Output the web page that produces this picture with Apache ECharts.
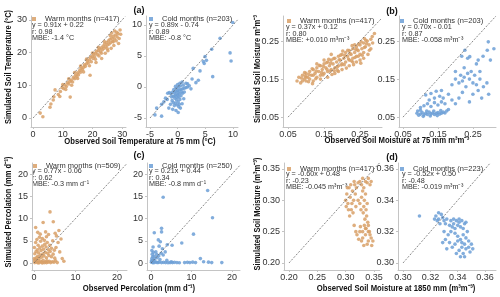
<!DOCTYPE html>
<html><head><meta charset="utf-8">
<script src="https://cdn.jsdelivr.net/npm/echarts@6/dist/echarts.min.js"></script>
<style>html,body{margin:0;padding:0;background:#fff}#c{width:500px;height:297px}</style>
</head><body><div id="c"></div>
<script>
// ---------- data ----------
const warmT = [[2.4,1.5],[3.3,0.4],[5.7,3.3],[6.8,5.5],[7.4,8.6],[8.5,7.2],[9.2,8.1],[9.8,9.3],[10.3,9.0],[10.8,10.1],[11.2,9.6],[11.6,10.8],[12.0,10.4],[12.5,6.4],[12.4,11.2],[12.9,11.6],[13.3,11.0],[13.6,12.4],[14.0,12.0],[14.3,13.1],[14.7,12.6],[15.0,13.8],[15.3,13.2],[15.7,14.5],[16.0,14.0],[16.2,15.2],[16.6,14.8],[17.0,15.5],[17.3,16.3],[17.6,15.8],[18.0,16.6],[18.3,17.4],[18.6,16.9],[19.0,17.8],[19.2,13.1],[19.3,18.6],[19.6,17.2],[19.9,18.9],[20.2,18.2],[20.4,19.6],[20.7,18.8],[21.0,19.8],[21.2,17.0],[21.4,20.4],[21.7,19.4],[22.0,20.6],[22.2,19.0],[22.4,21.1],[22.7,20.2],[23.0,21.5],[23.1,18.2],[23.3,20.8],[23.6,22.0],[23.9,21.3],[24.1,22.6],[24.3,19.8],[24.5,21.8],[24.8,23.1],[25.0,22.3],[25.2,20.6],[25.4,23.6],[25.6,22.6],[25.9,24.1],[26.1,23.0],[26.3,21.3],[26.5,24.4],[26.8,23.5],[27.0,25.0],[27.2,22.2],[27.4,24.2],[27.7,25.4],[28.0,23.6],[28.3,24.8],[28.6,25.8],[29.0,24.3],[29.5,25.6],[28.8,22.8],[26.0,25.2],[24.0,23.4],[22.0,21.6],[20.0,19.9],[18.0,18.0],[16.0,15.9],[14.0,13.9],[12.0,12.0],[10.0,10.2],[11.0,8.7],[13.0,10.0],[15.0,12.1],[17.0,14.1],[19.0,16.0],[21.0,18.0],[23.0,19.8],[25.0,21.2],[27.0,23.3],[9.0,6.6],[7.0,6.5],[6.0,4.3],[26.5,26.0],[27.5,26.6],[29.3,26.9],[28.2,26.2]];
const coldT = [[9.95,10.4],[7.66,7.85],[6.15,6.08],[9.47,5.5],[9.65,4.2],[6.33,1.67],[4.95,4.9],[4.65,4.1],[4.04,2.6],[2.8,3.0],[3.74,1.1],[1.8,0.5],[-3.8,-3.4],[-4.1,-4.5],[-2.9,-4.7],[-2.9,-2.8],[0.1,-4.1],[5.2,4.3],[4.8,3.8],[-1.8,-1.0],[-1.5,-0.9],[-1.2,-1.1],[-0.9,-0.8],[-0.6,-0.9],[-0.3,-0.7],[0.0,-0.6],[0.3,-0.5],[0.6,-0.4],[0.9,-0.3],[1.2,-0.2],[1.5,-0.1],[1.8,0.0],[2.1,0.2],[-0.8,-1.5],[-0.5,-1.8],[-0.2,-2.1],[0.1,-2.4],[0.4,-2.0],[-0.4,-2.6],[-0.1,-2.9],[0.2,-3.2],[-0.6,-3.0],[-1.0,-2.2],[-1.3,-2.8],[-1.6,-3.4],[-0.9,-3.6],[0.5,-3.4],[0.8,-2.7],[0.6,-1.4],[0.3,-1.1],[0.0,-1.3],[-0.3,-1.2],[0.9,-1.0],[1.2,-0.8],[1.0,0.3],[0.5,0.2],[0.2,0.0],[-0.2,-0.2],[0.0,0.4],[0.4,0.6],[0.8,0.8],[-0.4,0.1],[1.5,0.6],[2.4,-0.3],[-2.2,-1.8],[-2.5,-2.4],[-1.9,-2.0],[-0.7,-0.4],[0.7,-0.8],[-0.1,-1.7],[0.2,-1.6],[-0.5,-1.4],[1.1,-1.9],[-1.1,-1.6],[-0.3,-3.8],[0.3,-2.8],[-0.8,-2.5],[0.1,-0.9],[3.3,0.7],[2.6,1.3]];
const warmM = [[0.075,0.145],[0.08,0.155],[0.085,0.14],[0.09,0.16],[0.095,0.15],[0.1,0.165],[0.1,0.145],[0.105,0.155],[0.11,0.17],[0.11,0.15],[0.115,0.16],[0.12,0.145],[0.12,0.175],[0.125,0.165],[0.13,0.155],[0.13,0.18],[0.135,0.17],[0.14,0.16],[0.14,0.185],[0.145,0.175],[0.15,0.165],[0.15,0.19],[0.155,0.18],[0.16,0.17],[0.16,0.195],[0.165,0.185],[0.17,0.175],[0.17,0.2],[0.175,0.19],[0.18,0.18],[0.18,0.205],[0.185,0.195],[0.19,0.185],[0.19,0.21],[0.195,0.2],[0.2,0.19],[0.2,0.215],[0.205,0.205],[0.21,0.195],[0.21,0.22],[0.215,0.21],[0.22,0.2],[0.22,0.225],[0.225,0.215],[0.23,0.205],[0.23,0.23],[0.235,0.22],[0.24,0.21],[0.24,0.235],[0.245,0.225],[0.25,0.215],[0.25,0.24],[0.255,0.23],[0.26,0.22],[0.26,0.245],[0.265,0.235],[0.27,0.25],[0.275,0.24],[0.28,0.255],[0.285,0.245],[0.29,0.27],[0.28,0.23],[0.2,0.175],[0.18,0.165],[0.16,0.155],[0.14,0.15],[0.22,0.185],[0.24,0.195],[0.17,0.215],[0.15,0.2],[0.13,0.19],[0.26,0.205],[0.23,0.195],[0.19,0.17],[0.12,0.16],[0.1,0.155],[0.09,0.145],[0.235,0.24],[0.245,0.21],[0.25,0.2],[0.087,0.153],[0.096,0.167],[0.107,0.143],[0.117,0.177],[0.127,0.151],[0.137,0.186],[0.147,0.161],[0.157,0.193],[0.167,0.171],[0.177,0.204],[0.186,0.181],[0.196,0.213],[0.206,0.188],[0.216,0.226],[0.226,0.198],[0.236,0.207],[0.246,0.242],[0.256,0.213],[0.266,0.252],[0.276,0.226],[0.143,0.167],[0.187,0.173],[0.208,0.212],[0.232,0.188],[0.163,0.202],[0.118,0.138],[0.098,0.158],[0.253,0.248],[0.228,0.238],[0.272,0.215],[0.284,0.262],[0.262,0.257],[0.172,0.162],[0.212,0.179],[0.252,0.192],[0.158,0.176],[0.198,0.187],[0.218,0.203],[0.238,0.228],[0.268,0.243],[0.108,0.162],[0.128,0.171],[0.148,0.183],[0.168,0.192],[0.178,0.172],[0.192,0.201],[0.202,0.224],[0.222,0.217],[0.242,0.227],[0.262,0.233]];
const coldM = [[0.09,0.06],[0.095,0.055],[0.1,0.058],[0.105,0.062],[0.11,0.056],[0.115,0.06],[0.12,0.057],[0.125,0.063],[0.13,0.058],[0.135,0.061],[0.14,0.057],[0.145,0.06],[0.15,0.062],[0.155,0.058],[0.16,0.06],[0.165,0.063],[0.17,0.061],[0.092,0.066],[0.1,0.068],[0.108,0.052],[0.118,0.066],[0.128,0.053],[0.138,0.066],[0.148,0.054],[0.158,0.067],[0.175,0.066],[0.18,0.07],[0.1,0.075],[0.11,0.08],[0.12,0.085],[0.13,0.078],[0.14,0.088],[0.15,0.082],[0.16,0.09],[0.17,0.085],[0.125,0.095],[0.14,0.1],[0.155,0.105],[0.165,0.1],[0.18,0.11],[0.19,0.095],[0.115,0.108],[0.13,0.112],[0.145,0.118],[0.16,0.12],[0.2,0.085],[0.21,0.1],[0.22,0.115],[0.19,0.135],[0.2,0.15],[0.21,0.14],[0.215,0.16],[0.22,0.145],[0.225,0.155],[0.23,0.13],[0.235,0.165],[0.24,0.15],[0.245,0.17],[0.25,0.14],[0.255,0.16],[0.26,0.135],[0.265,0.12],[0.27,0.15],[0.28,0.13],[0.29,0.14],[0.275,0.1],[0.295,0.11],[0.24,0.09],[0.25,0.11],[0.2,0.17],[0.225,0.18],[0.294,0.248],[0.291,0.226],[0.279,0.21],[0.241,0.209],[0.218,0.21],[0.227,0.226],[0.235,0.205],[0.26,0.19],[0.3,0.2],[0.31,0.23],[0.27,0.17],[0.265,0.2]];
const warmP = [[0.2,0.1],[0.5,0.3],[0.8,0.2],[1.0,0.5],[1.3,0.1],[1.6,0.4],[1.9,0.2],[2.2,0.6],[2.5,0.1],[2.8,0.3],[3.1,0.5],[3.4,0.2],[3.7,0.4],[4.0,0.1],[4.4,0.3],[4.8,0.2],[5.2,0.5],[5.6,0.1],[0.3,0.8],[0.6,1.2],[0.9,1.5],[1.2,1.0],[1.5,1.8],[1.8,1.3],[2.1,2.0],[2.4,1.6],[2.7,2.4],[3.0,1.2],[3.3,2.2],[3.6,1.7],[3.9,2.6],[4.2,1.4],[4.6,2.0],[5.0,1.1],[0.2,2.1],[0.5,2.6],[0.8,3.0],[1.1,2.3],[1.4,3.4],[1.7,2.8],[2.0,3.8],[2.3,3.1],[2.6,4.2],[2.9,3.6],[3.2,4.6],[3.5,3.0],[3.8,4.0],[4.2,3.3],[4.5,5.0],[4.9,2.9],[5.3,3.5],[5.8,4.6],[6.2,2.5],[6.5,5.4],[0.1,3.5],[0.4,4.6],[0.7,5.3],[1.0,4.0],[1.3,5.8],[1.6,4.9],[2.0,5.5],[2.5,5.1],[3.0,5.9],[0.4,8.0],[2.2,9.1],[4.65,9.3],[3.86,11.5],[1.5,6.5],[2.8,7.0],[3.5,6.4],[0.9,6.9],[5.4,6.1],[6.0,7.3],[0.1,1.0],[0.15,0.5],[1.0,0.0],[2.0,0.0],[3.0,0.05],[6.8,1.0],[7.2,0.4],[5.1,6.7]];
const coldP = [[14.0,16.3],[3.0,14.8],[15.2,10.2],[10.5,6.5],[0.8,6.8],[2.6,7.8],[2.6,7.0],[1.8,5.2],[2.3,4.8],[4.0,4.1],[5.2,4.0],[7.6,4.5],[12.2,1.0],[13.0,0.3],[2.0,3.8],[0.5,3.6],[1.2,2.5],[0.3,2.0],[0.8,1.5],[1.5,1.2],[2.2,0.8],[3.0,1.8],[3.5,2.5],[2.5,2.2],[0.2,1.0],[0.5,0.6],[1.0,0.3],[0.1,0.2],[0.4,0.1],[0.7,0.05],[1.3,0.15],[1.7,0.1],[2.0,0.2],[2.6,0.1],[3.1,0.15],[3.6,0.1],[4.2,0.05],[4.7,0.1],[5.3,0.1],[5.8,0.15],[6.4,0.1],[7.0,0.05],[8.3,0.1],[9.0,0.15],[9.6,0.1],[10.3,0.2],[11.0,0.1],[14.2,0.2],[15.0,0.1],[17.5,0.1],[0.2,2.8],[0.6,2.4],[1.4,1.9],[0.9,0.9],[1.9,1.6],[0.4,1.4],[3.9,0.6],[0.1,0.5],[2.8,3.2],[5.0,0.3]];
const warmD = [[0.300,0.300],[0.302,0.31],[0.304,0.295],[0.306,0.32],[0.308,0.305],[0.31,0.285],[0.312,0.315],[0.314,0.3],[0.316,0.325],[0.318,0.29],[0.305,0.285],[0.309,0.325],[0.313,0.28],[0.317,0.31],[0.303,0.32],[0.311,0.295],[0.319,0.32],[0.315,0.33],[0.307,0.275],[0.301,0.29],[0.325,0.33],[0.33,0.335],[0.335,0.33],[0.34,0.335],[0.345,0.33],[0.328,0.325],[0.338,0.328],[0.343,0.325],[0.322,0.328],[0.332,0.32],[0.33,0.315],[0.335,0.31],[0.333,0.3],[0.338,0.295],[0.332,0.29],[0.336,0.285],[0.331,0.28],[0.337,0.275],[0.334,0.27],[0.339,0.265],[0.333,0.26],[0.336,0.255],[0.34,0.25],[0.328,0.305],[0.325,0.295],[0.327,0.285],[0.322,0.3],[0.32,0.245],[0.325,0.25],[0.33,0.24],[0.335,0.245],[0.34,0.235],[0.345,0.24],[0.342,0.25],[0.338,0.23],[0.332,0.228],[0.328,0.235],[0.323,0.238],[0.318,0.25],[0.346,0.228],[0.335,0.255],[0.326,0.258],[0.343,0.245],[0.348,0.235],[0.33,0.25],[0.315,0.26],[0.34,0.26]];
const coldD = [[0.312,0.330],[0.324,0.330],[0.326,0.328],[0.328,0.331],[0.33,0.327],[0.327,0.325],[0.325,0.327],[0.329,0.329],[0.331,0.325],[0.323,0.328],[0.332,0.328],[0.326,0.332],[0.335,0.327],[0.337,0.325],[0.339,0.327],[0.341,0.326],[0.343,0.327],[0.345,0.325],[0.336,0.323],[0.338,0.322],[0.34,0.324],[0.342,0.323],[0.344,0.322],[0.346,0.326],[0.337,0.328],[0.341,0.328],[0.334,0.324],[0.33,0.32],[0.333,0.318],[0.335,0.32],[0.338,0.319],[0.34,0.317],[0.342,0.315],[0.344,0.318],[0.346,0.316],[0.348,0.314],[0.345,0.312],[0.343,0.31],[0.341,0.308],[0.346,0.309],[0.348,0.31],[0.35,0.312],[0.344,0.306],[0.342,0.304],[0.339,0.306],[0.336,0.31],[0.334,0.313],[0.331,0.315],[0.338,0.312],[0.345,0.304],[0.349,0.307],[0.351,0.309],[0.329,0.313],[0.332,0.309],[0.34,0.314],[0.347,0.32],[0.343,0.313]];

// tick labels
const tempWarmTicks = [0,10,20,30];
const tempColdTicks = [-5,0,5,10];
const moistTicks = [0.05,0.15,0.25];
const percXTicks = [0,10,20];
const percYTicks = [0,5,10,15,20];
const deepWarmTicks = [0.20,0.25,0.30,0.35];
const deepColdTicks = [0.30,0.32,0.34,0.36];

// legend names and stats
const seriesNames = ['Warm months (n=417)','Cold months (n=203)','Warm months (n=417)','Cold months (n=203)','Warm months (n=509)','Cold months (n=250)','Warm months (n=417)','Cold months (n=223)'];
const statLines = [
  ['y = 0.91x + 0.22','r: 0.98','MBE: -1.4 °C'],
  ['y = 0.89x - 0.74','r: 0.89','MBE: -0.8 °C'],
  ['y = 0.37x + 0.12','r: 0.80','MBE: +0.010 m³m⁻³'],
  ['y = 0.70x - 0.01','r: 0.87','MBE: -0.058 m³m⁻³'],
  ['y = 0.77x - 0.06','r: 0.62','MBE: -0.3 mm d⁻¹'],
  ['y = 0.21x + 0.44','r: 0.34','MBE: -0.8 mm d⁻¹'],
  ['y = -0.60x + 0.48','r: -0.23','MBE: -0.045 m³m⁻³'],
  ['y = -0.52x + 0.50','r: -0.48','MBE: -0.019 m³m⁻³']
];

// ---------- layout ----------
const FONT = "'Liberation Sans',Arial,sans-serif";
const WARM = '#D8A067', COLD = '#6C9FD6';
const AX = '#c4c4c4', TXT = '#333';
const panels = [
  {g:[31,16,95,111], x:[-0.7,31.3], y:[-2.75,31.2], xt:tempWarmTicks, yt:tempWarmTicks, d:warmT, c:WARM, dg:[0,31], dec:0, lg:[32,15], st:[32,25]},
  {g:[146,16,92,111], x:[-5.72,10.9], y:[-6.45,11.45], xt:tempColdTicks, yt:tempColdTicks, d:coldT, c:COLD, dg:[-5,10.9], dec:0, lg:[149,15], st:[149,25]},
  {g:[283,16,99,111], x:[0.036,0.311], y:[0.024,0.316], xt:moistTicks, yt:moistTicks, d:warmM, c:WARM, dg:[0.05,0.31], dec:2, lg:[287,17], st:[286,27]},
  {g:[399,16,97,111], x:[0.0386,0.316], y:[0.024,0.316], xt:moistTicks, yt:moistTicks, d:coldM, c:COLD, dg:[0.05,0.316], dec:2, lg:[400,17], st:[402,27]},
  {g:[32,163,95,107], x:[-0.48,22.4], y:[-1.57,22.5], xt:percXTicks, yt:percYTicks, d:warmP, c:WARM, dg:[0,22.4], dec:0, lg:[33,162], st:[32,171]},
  {g:[147,163,93,107], x:[-1,22], y:[-1.57,22.5], xt:percXTicks, yt:percYTicks, d:coldP, c:COLD, dg:[0,22], dec:0, lg:[149,162], st:[149,171]},
  {g:[284,163,96,107], x:[0.1912,0.3606], y:[0.1888,0.3596], xt:deepWarmTicks, yt:deepWarmTicks, d:warmD, c:WARM, dg:[0.2,0.36], dec:2, lg:[287,165], st:[286,174]},
  {g:[398,163,98,107], x:[0.2963,0.368], y:[0.2955,0.3638], xt:deepColdTicks, yt:deepColdTicks, d:coldD, c:COLD, dg:[0.3,0.3638], dec:2, lg:[400,165], st:[402,174]}
];

const grid=[], xAxis=[], yAxis=[], series=[], legend=[], graphic=[];
panels.forEach((p,i)=>{
  grid.push({left:p.g[0], top:p.g[1], width:p.g[2], height:p.g[3], outerBoundsMode:'none', containLabel:false});
  const fmt = v => p.dec ? v.toFixed(p.dec) : String(v);
  const base = (ticks, isX) => ({
    type:'value', gridIndex:i, scale:true,
    axisLine:{show:true, onZero:false, lineStyle:{color:AX, width:1}},
    axisTick:{show:true, customValues:ticks, length:2, lineStyle:{color:AX}},
    axisLabel:{customValues:ticks, formatter:fmt, fontSize:9, color:TXT, fontFamily:FONT, margin:isX?3:4},
    splitLine:{show:false}
  });
  xAxis.push(Object.assign(base(p.xt,true), {min:p.x[0], max:p.x[1]}));
  yAxis.push(Object.assign(base(p.yt,false), {min:p.y[0], max:p.y[1]}));
  series.push({type:'scatter', name:seriesNames[i], xAxisIndex:i, yAxisIndex:i, data:p.d,
    symbol:'circle', symbolSize:3.6, itemStyle:{color:p.c, opacity:0.85}, silent:true, z:2});
  series.push({type:'line', name:'1:1 line '+i, xAxisIndex:i, yAxisIndex:i, data:[[p.dg[0],p.dg[0]],[p.dg[1],p.dg[1]]],
    symbol:'none', silent:true, z:3, lineStyle:{color:'#555', width:0.7, type:[2,1.5]}});
  legend.push({data:[seriesNames[i]], left:p.lg[0], top:p.lg[1], padding:0, icon:'rect', itemWidth:4, itemHeight:4,
    selectedMode:false, textStyle:{fontSize:7.5, color:TXT, fontFamily:FONT, padding:[0,0,0,4]}});
  graphic.push({type:'text', x:p.st[0], y:p.st[1]-3.5, scaleX:0.9, silent:true,
    style:{text:statLines[i].join('\n'), font:'8px '+FONT, fill:TXT, lineHeight:6.7, verticalAlign:'top'}});
});

const bold = '700 9.5px '+FONT;
const addText = (t,x,y,rot,f,sx) => graphic.push({type:'text', x:x, y:y, rotation:rot||0, scaleX:sx||1, silent:true,
  style:{text:t, font:f||bold, fill:'#111', align:'center', verticalAlign:'middle'}});
addText('Observed Soil Temperature at 75 mm (°C)',140,141,0,bold,0.81);
addText('Observed Soil Moisture at 75 mm m³m⁻³',397,140,0,bold,0.81);
addText('Observed Percolation (mm d⁻¹)',139,288,0,bold,0.81);
addText('Observed Soil Moisture at 1850 mm (m³m⁻³)',396,288,0,bold,0.81);
addText('Simulated Soil Temperature (°C)',8,67,Math.PI/2,bold,0.79);
addText('Simulated Soil Moisture m³m⁻³',257,69,Math.PI/2,bold,0.79);
addText('Simulated Percolation (mm d⁻¹)',8,212,Math.PI/2,bold,0.79);
addText('Simulated Soil Moisture (m³m⁻³)',257,214,Math.PI/2,bold,0.79);
const lab = '700 9px '+FONT;
addText('(a)',139,11,0,lab);
addText('(b)',392,12,0,lab);
addText('(c)',139,156,0,lab);
addText('(d)',392,158,0,lab);

const chart = echarts.init(document.getElementById('c'), null, {renderer:'canvas'});
chart.setOption({animation:false, backgroundColor:'#fff', grid, xAxis, yAxis, series, legend, graphic});
</script></body></html>
